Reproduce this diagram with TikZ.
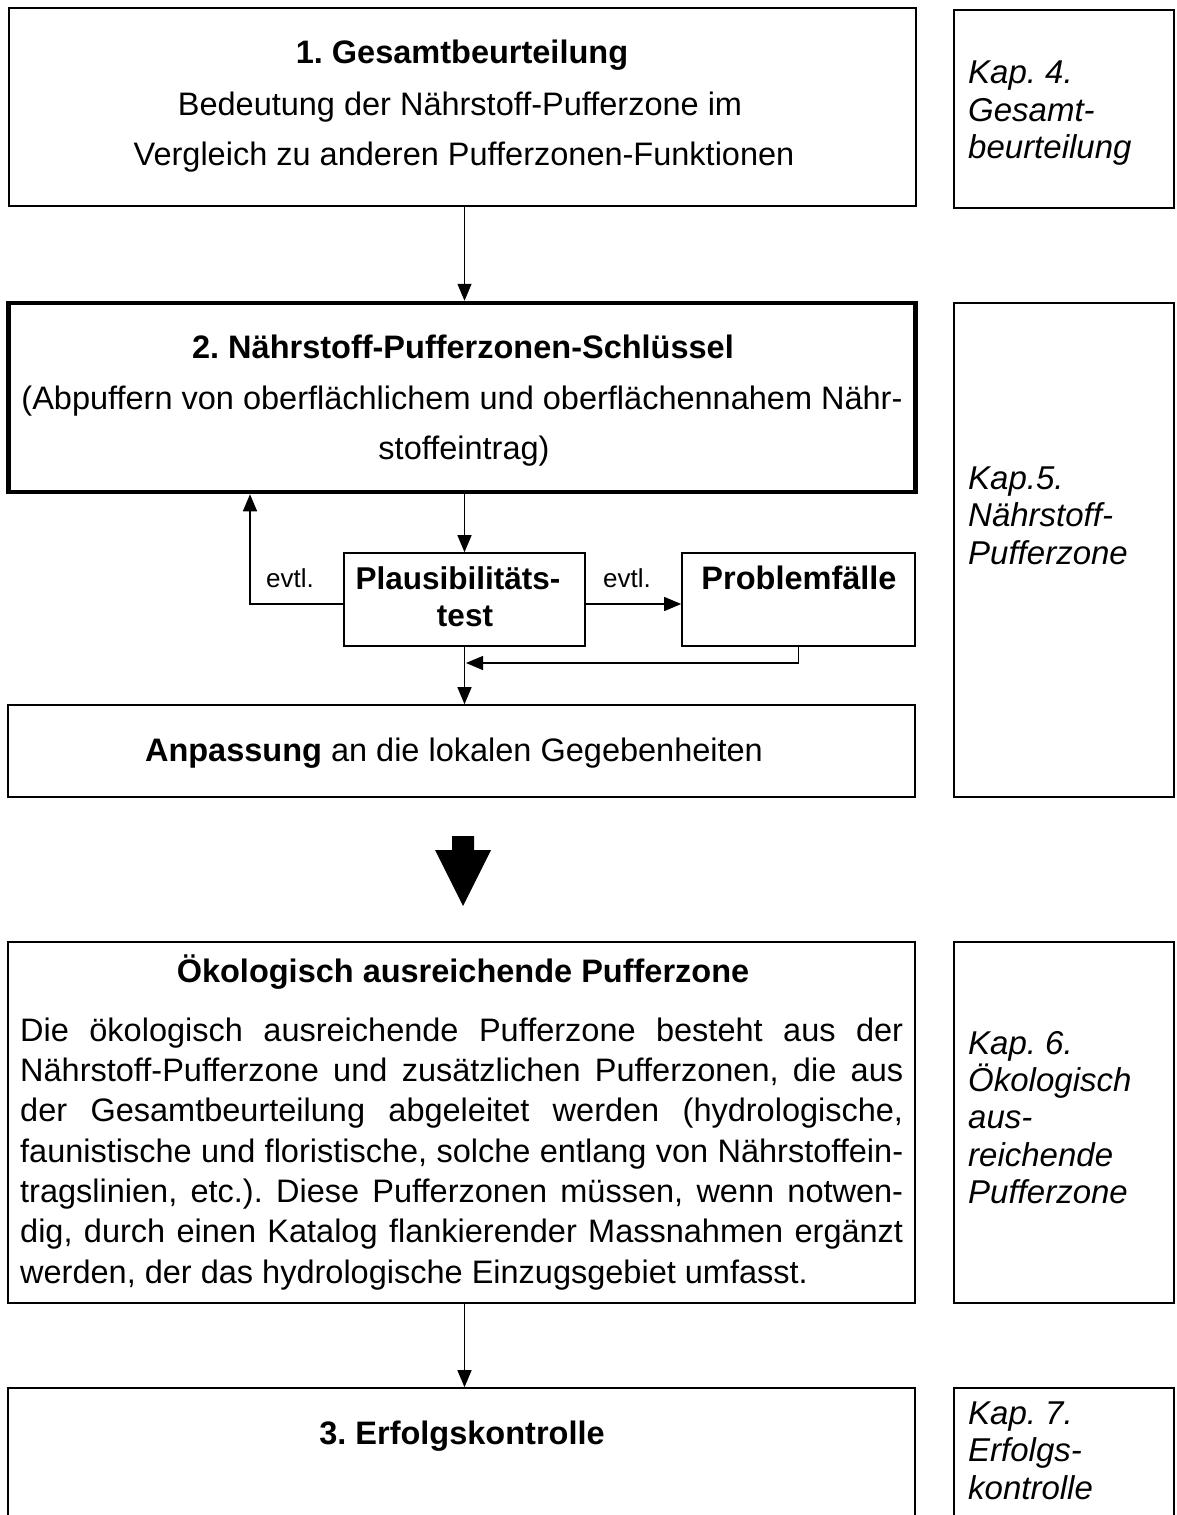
\documentclass[tikz,border=0pt]{standalone}
\usepackage{fontspec}
\setmainfont{Liberation Sans}
\usetikzlibrary{arrows.meta,calc}
\frenchspacing
\begin{document}
\begin{tikzpicture}[x=1pt,y=-1pt,
  box/.style={draw,line width=1.6pt,inner sep=0,minimum width=#1},
  side/.style={draw,line width=1.4pt,inner sep=0,minimum width=220pt},
  txt/.style={inner sep=0,anchor=base,font=\fontsize{32.5}{38}\selectfont},
  btxt/.style={inner sep=0,anchor=base,font=\fontsize{32.5}{38}\selectfont\bfseries},
  stxt/.style={inner sep=0,anchor=base west,font=\fontsize{33}{38}\selectfont\itshape},
  ptxt/.style={inner sep=0,anchor=base west,font=\fontsize{32.5}{38}\selectfont},
  arr/.style={line width=1.3pt,-{Triangle[length=17pt,width=14pt]}},
  ln/.style={line width=1.3pt}]
\frenchspacing
\clip (0,0) rectangle (1176,1515);
\fill[white] (0,0) rectangle (1176,1515);

% main boxes
\node[box=907pt,minimum height=198pt] (b1) at (462.5,107) {};
\node[draw,line width=4.5pt,inner sep=0,minimum width=907pt,minimum height=189pt] (b2) at (462,397.5) {};
\node[box=241pt,minimum height=93pt] (pl) at (464.5,599.5) {};
\node[box=233pt,minimum height=93pt] (pr) at (798.5,599.5) {};
\node[box=907pt,minimum height=92pt] (an) at (461.5,751) {};
\node[box=907pt,minimum height=361pt] (ok) at (461.5,1122.5) {};
\node[box=907pt,minimum height=200pt] (b3) at (461.5,1488) {};

% side boxes
\node[side,minimum height=198pt] (s1) at (1064,109) {};
\node[side,minimum height=494pt] (s2) at (1064,550) {};
\node[side,minimum height=361pt] (s3) at (1064,1122.5) {};
\node[side,minimum height=200pt] (s4) at (1064,1488) {};

% texts box 1
\node[btxt] (t11) at (462,63) {1. Gesamtbeurteilung};
\node[txt] (t12) at (460,115) {Bedeutung der Nährstoff-Pufferzone im};
\node[txt] (t13) at (464,165) {Vergleich zu anderen Pufferzonen-Funktionen};

% texts box 2
\node[btxt] (t21) at (463,358) {2. Nährstoff-Pufferzonen-Schlüssel};
\node[txt] (t22) at (462,409) {(Abpuffern von oberflächlichem und oberflächennahem Nähr-};
\node[txt] (t23) at (464,459) {stoffeintrag)};

% middle
\node[btxt,font=\fontsize{31.5}{38}\selectfont\bfseries] (tp1) at (458,589) {Plausibilitäts-};
\node[btxt,font=\fontsize{31.5}{38}\selectfont\bfseries] (tp2) at (465,626) {test};
\node[btxt] (tq) at (799,589) {Problemfälle};
\node[txt,font=\fontsize{26}{30}\selectfont] (e1) at (290,587) {evtl.};
\node[txt,font=\fontsize{26}{30}\selectfont] (e2) at (627,587) {evtl.};

\node[txt] (ta) at (454,761) {\textbf{Anpassung} an die lokalen Gegebenheiten};

% big arrow
\fill (452,836) -- (474,836) -- (474,850) -- (491,850) -- (463,906) -- (435,850) -- (452,850) -- cycle;

% Oekologisch box
\node[btxt] (to) at (463,982) {Ökologisch ausreichende Pufferzone};
\node[ptxt] (p1) at (20,1041) {\makebox[883pt][s]{Die ökologisch ausreichende Pufferzone besteht aus der}};
\node[ptxt] (p2) at (20,1081) {\makebox[883pt][s]{Nährstoff-Pufferzone und zusätzlichen Pufferzonen, die aus}};
\node[ptxt] (p3) at (20,1121) {\makebox[883pt][s]{der Gesamtbeurteilung abgeleitet werden (hydrologische,}};
\node[ptxt] (p4) at (20,1162) {\makebox[883pt][s]{faunistische und floristische, solche entlang von Nährstoffein-}};
\node[ptxt] (p5) at (20,1202) {\makebox[883pt][s]{tragslinien, etc.). Diese Pufferzonen müssen, wenn notwen-}};
\node[ptxt] (p6) at (20,1242) {\makebox[883pt][s]{dig, durch einen Katalog flankierender Massnahmen ergänzt}};
\node[ptxt] (p7) at (20,1283) {werden, der das hydrologische Einzugsgebiet umfasst.};

\node[btxt] (t3) at (462,1444) {3. Erfolgskontrolle};

% side texts
\node[stxt] (k41) at (968,83) {Kap. 4.};
\node[stxt] (k42) at (968,121) {Gesamt-};
\node[stxt] (k43) at (968,158) {beurteilung};
\node[stxt] (k51) at (968,489) {Kap.5.};
\node[stxt] (k52) at (968,526) {Nährstoff-};
\node[stxt] (k53) at (968,564) {Pufferzone};
\node[stxt] (k61) at (968,1054) {Kap. 6.};
\node[stxt] (k62) at (968,1091) {Ökologisch};
\node[stxt] (k63) at (968,1128) {aus-};
\node[stxt] (k64) at (968,1166) {reichende};
\node[stxt] (k65) at (968,1203) {Pufferzone};
\node[stxt] (k71) at (968,1424) {Kap. 7.};
\node[stxt] (k72) at (968,1461) {Erfolgs-};
\node[stxt] (k73) at (968,1499) {kontrolle};

% connectors
\coordinate (lc) at (250,604);
\coordinate (rc) at (600,604);
\coordinate (jc) at (466,663);
\draw[arr] (b1.south -| pl.north) -- (b2.north -| pl.north);
\draw[arr] (b2.south -| pl.north) -- (pl.north);
\draw[arr] (lc -| pl.west) -| (b2.south -| lc);
\draw[arr] (rc -| pl.east) -- (rc -| pr.west);
\draw[arr] (pr.south) |- (jc);
\draw[arr] (pl.south) -- (an.north -| pl.south);
\draw[arr] (ok.south -| pl.south) -- (b3.north -| pl.south);
\end{tikzpicture}
\end{document}
